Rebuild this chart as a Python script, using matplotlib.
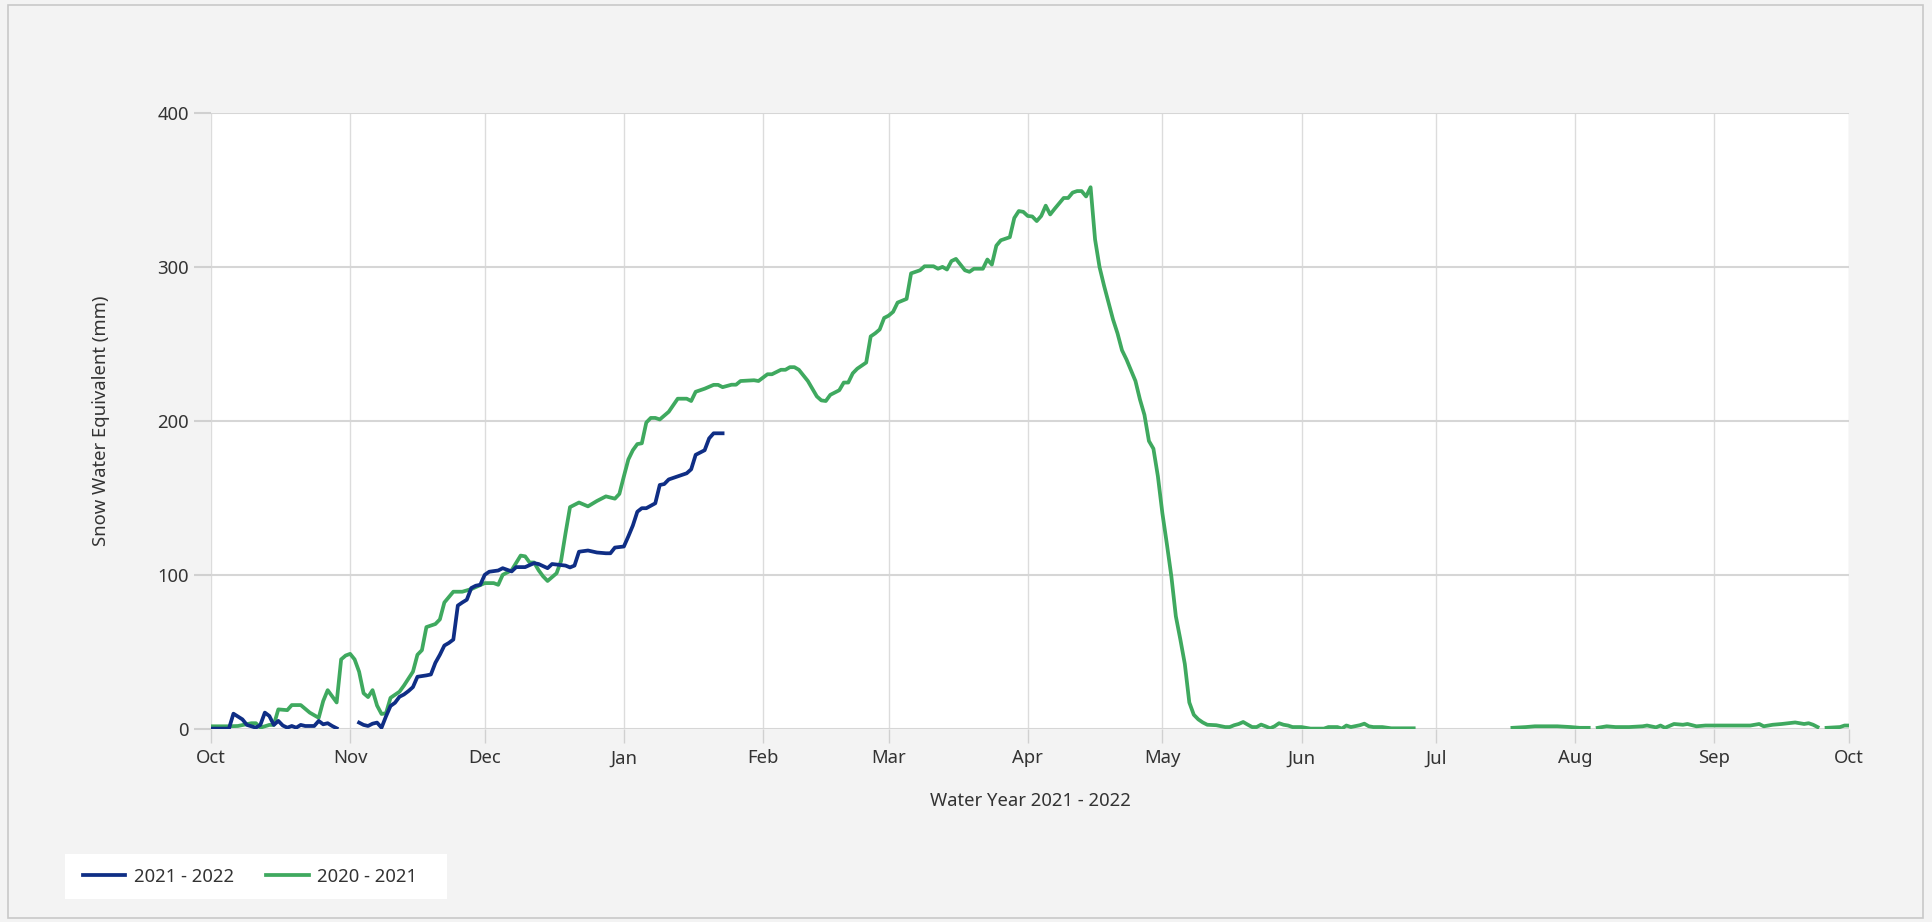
import numpy as np
import pandas as pd
import matplotlib
matplotlib.use("Agg")
import matplotlib.pyplot as plt
import matplotlib.dates as mdates
from matplotlib.patches import Rectangle

nan = np.nan

# days since 1 Oct of the water year, snow water equivalent in mm
g_day = [0, 4, 6, 9, 10, 11, 13, 14, 15, 17, 18, 20, 22, 24, 25, 26, 28, 29, 30, 31,
         32, 33, 34, 35, 36, 37, 38, 39, 40, 42, 43, 45, 46, 47, 48, 50, 51, 52, 54, 56,
         58, 59, 61, 63, 64, 65, 67, 69, 70, 71, 72, 73, 74, 75, 77, 78, 79, 80, 82, 84,
         86, 88, 90, 91, 92, 93, 94, 95, 96, 97, 98, 99, 100, 102, 104, 106, 107, 108, 110, 112,
         113, 114, 116, 117, 118, 121, 122, 124, 125, 127, 128, 129, 130, 131, 133, 135, 136, 137, 138, 140,
         141, 142, 143, 144, 146, 147, 148, 149, 150, 151, 152, 153, 155, 156, 158, 159, 161, 162, 163, 164,
         165, 166, 167, 168, 169, 170, 172, 173, 174, 175, 176, 178, 179, 180, 181, 182, 183, 184, 185, 186,
         187, 188, 190, 191, 192, 193, 194, 195, 196, 197, 198, 199, 200, 201, 202, 203, 204, 205, 206, 207,
         208, 209, 210, 211, 212, 213, 214, 215, 216, 217, 218, 219, 220, 221, 222, 224, 226, 227, 228, 229,
         230, 231, 232, 233, 234, 235, 236, 237, 238, 239, 240, 241, 243, 245, 248, 249, 251, 252, 253, 254,
         256, 257, 258, 259, 261, 263, 266, 268, 269, 289, 290, 293, 295, 300, 303, 305, 307, 308, 309, 311,
         313, 316, 319, 320, 322, 323, 324, 326, 328, 329, 331, 333, 340, 343, 345, 346, 348, 350, 353, 355,
         356, 357, 358, 359, 360, 363, 364, 365]
g_swe = [1.5, 1.5, 1.7, 3.5, 3.5, 0.6, 2.4, 2.4, 12.5, 12, 15.3, 15.3, 10.4, 7, 17.9, 25, 17, 45, 47.5, 48.6,
         45, 37, 23, 20.5, 25, 15, 9.5, 10, 20, 24, 28, 37, 48, 51, 66, 68, 71, 82, 89, 89,
         90.7, 92, 94.6, 94.6, 93.5, 100, 103, 112.5, 112, 108, 108, 103, 99, 96, 101, 109, 127, 144, 147, 144.5,
         148, 151, 149.5, 152.6, 164, 175, 181, 185, 185.5, 199, 202, 202, 201, 206, 214.5, 214.5, 213, 219, 221, 223.5,
         223.5, 222, 223.6, 223.6, 226, 226.5, 226, 230.4, 230.4, 233.3, 233.3, 235, 235, 233.3, 226, 216, 213.4, 213, 217, 220,
         225, 225, 231, 234, 238, 255, 257, 259.5, 267, 268.5, 271, 277, 279.4, 296, 298, 300.6, 300.6, 299, 300.2, 298.5,
         304, 305.4, 301.7, 298, 297, 299, 299, 305, 301.7, 314, 317.5, 319.5, 332, 336.5, 336, 333.3, 333, 330, 333.3, 340,
         334.3, 338, 345, 345, 348.5, 349.5, 349.5, 346, 352, 318, 300, 288, 277, 266, 257, 246, 240, 233, 226, 214,
         204, 187, 182, 164, 140, 120, 99, 73, 58, 42, 17, 9, 6, 4, 2.5, 2.2, 1, 1, 2.2, 3,
         4.3, 2.6, 1, 1, 2.6, 1.5, 0.2, 1.5, 3.5, 2.5, 2, 1, 1, 0, 0, 1, 1, 0, 2, 1,
         2.2, 3.2, 1.5, 1, 1, 0.2, 0.2, 0.2, nan, nan, 0.5, 1, 1.5, 1.5, 1, 0.5, 0.5, nan, 0.5, 1.5,
         1, 1, 1.5, 2, 0.8, 2, 0.5, 3, 2.5, 3, 1.5, 2, 2, 2, 3, 1.5, 2.5, 3, 4, 3,
         3.5, 2.5, 1, nan, 0.5, 1, 2, 2]

b_day = [0, 4, 5, 7, 8, 10, 11, 12, 13, 14, 15, 16, 17, 18, 19, 20, 21, 23, 24, 25,
         26, 27, 28, 29, 32, 33, 34, 35, 36, 37, 38, 39, 40, 41, 42, 43, 44, 45, 46, 48,
         49, 50, 51, 52, 53, 54, 55, 56, 57, 58, 59, 60, 61, 62, 64, 65, 67, 68, 70, 72,
         73, 75, 76, 79, 80, 81, 82, 84, 86, 88, 89, 90, 92, 93, 94, 95, 96, 97, 99, 100,
         101, 102, 104, 106, 107, 108, 110, 111, 112, 114]
b_swe = [0, 0, 9.7, 6, 2.4, 0.6, 2.4, 10.4, 8.2, 2.4, 5, 2, 0.6, 1.7, 0.6, 2.4, 1.7, 1.7, 5, 2.8,
         3.5, 1.7, 0.2, nan, nan, 3.9, 2.4, 1.7, 3.2, 3.9, 0.6, 8, 14.7, 16.8, 20.7, 22.2, 24.4, 27, 33.7, 34.6,
         35.2, 42.8, 48, 54, 55.7, 57.9, 80, 82, 83.8, 91.4, 92.9, 93.5, 100, 102, 102.8, 104.3, 102.2, 105, 105, 107.6,
         107, 104.3, 107, 106, 104.8, 106, 115, 115.8, 114.5, 114, 114, 117.7, 118.4, 125, 132, 141, 143.3, 143.3, 146.5, 158.4,
         159, 162, 164, 166, 168.6, 178, 181, 188.7, 192, 192]

start = pd.Timestamp("2021-10-01")
end = pd.Timestamp("2022-10-01")

W, H = 1933, 922
fig = plt.figure(figsize=(W / 100, H / 100), dpi=100, facecolor="#f3f3f3")
plt.rcParams["font.family"] = ["Noto Sans", "DejaVu Sans"]
fs = 13.3

# outer frame
fig.patches.append(Rectangle((8 / W, 4 / H), (1923 - 8) / W, (917 - 4) / H, transform=fig.transFigure,
                             fill=False, edgecolor="#c8c8c8", linewidth=1.2))
# white legend panel
fig.patches.append(Rectangle((65 / W, (H - 899) / H), 382 / W, 45 / H, transform=fig.transFigure,
                             facecolor="white", edgecolor="none"))

ax = fig.add_axes([211 / W, (H - 728.6) / H, (1849 - 211) / W, (728.6 - 113.4) / H])
ax.set_facecolor("white")

gx = start + pd.to_timedelta(g_day, unit="D")
bx = start + pd.to_timedelta(b_day, unit="D")
ax.plot(gx, g_swe, color="#3fa95f", lw=2.7, label="2020 - 2021", zorder=3)
ax.plot(bx, b_swe, color="#0f2e85", lw=2.7, label="2021 - 2022", zorder=4)

ax.set_xlim(start, end)
ax.set_ylim(0, 400)
ax.set_yticks([0, 100, 200, 300, 400])
ax.xaxis.set_major_locator(mdates.MonthLocator())
ax.xaxis.set_major_formatter(mdates.DateFormatter("%b"))

ax.grid(True, axis="x", color="#dcdcdc", lw=1.0)
ax.grid(True, axis="y", color="#d6d6d6", lw=1.5)
for s in ax.spines.values():
    s.set_visible(False)
ax.tick_params(axis="x", length=10, width=1, color="#d0d0d0", labelsize=fs, labelcolor="#333333", pad=5)
ax.tick_params(axis="y", length=12, width=1.5, color="#d0d0d0", labelsize=fs, labelcolor="#333333", pad=4)

ax.set_xlabel("Water Year 2021 - 2022", fontsize=fs, color="#333333", labelpad=18)
ax.set_ylabel("Snow Water Equivalent (mm)", fontsize=fs, color="#333333", labelpad=34)

h, l = ax.get_legend_handles_labels()
leg = fig.legend(h[::-1], l[::-1], loc="center left", bbox_to_anchor=(83 / W, (H - 876.5) / H),
                 ncol=2, frameon=False, fontsize=fs, handlelength=2.3, columnspacing=1.75,
                 borderpad=0.0, borderaxespad=0.0, handletextpad=0.45)
for t in leg.get_texts():
    t.set_color("#333333")

fig.savefig("out.png", dpi=100, facecolor=fig.get_facecolor())
